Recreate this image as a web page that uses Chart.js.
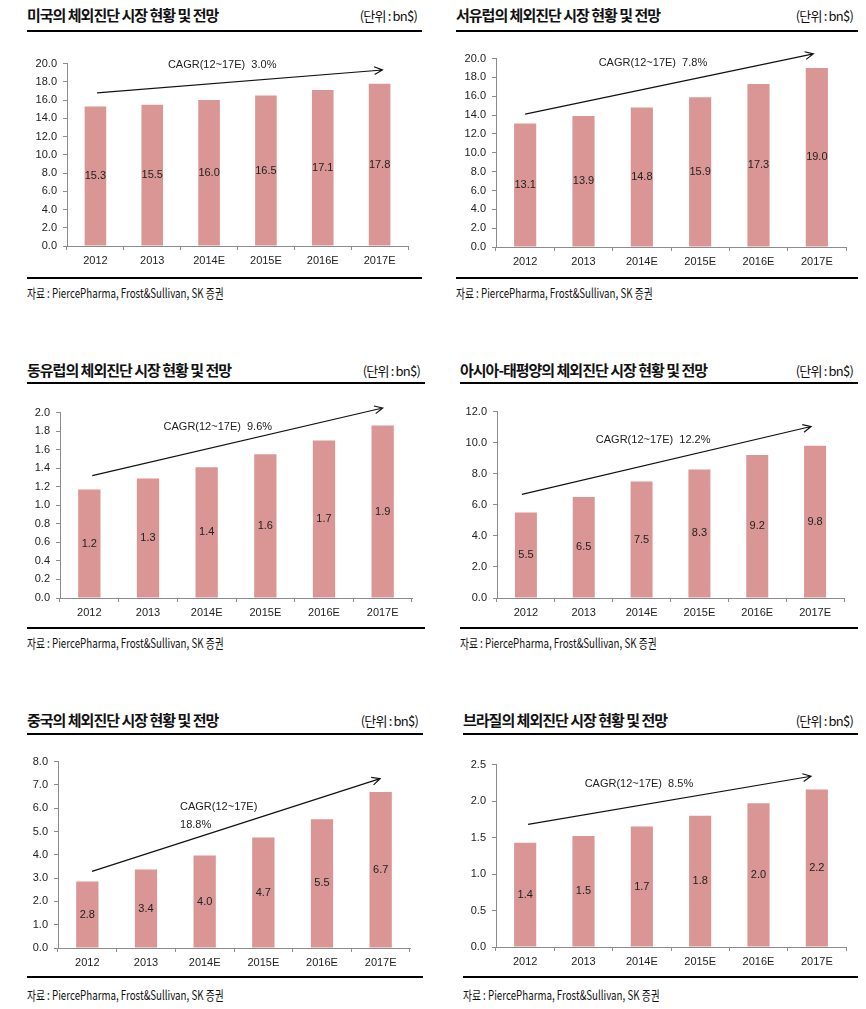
<!DOCTYPE html>
<html>
<head>
<meta charset="utf-8">
<script src="https://cdn.jsdelivr.net/npm/chart.js@4.4.1/dist/chart.umd.min.js"></script>
<style>
    html, body { margin: 0; padding: 0; background: #fff; }
    body { width: 866px; height: 1009px; position: relative; overflow: hidden; }
    .title { position: absolute; font-family: "Noto Sans CJK KR", sans-serif; font-weight: 700; font-size: 15px; letter-spacing: -1px; color: #111; white-space: nowrap; line-height: 1; }
    .unit { position: absolute; font-family: "Noto Sans CJK KR", sans-serif; font-size: 13px; letter-spacing: -0.8px; color: #111; white-space: nowrap; line-height: 1; }
    .rule { position: absolute; height: 2px; background: #000; }
    .source { position: absolute; font-family: "Noto Sans CJK KR", sans-serif; font-size: 13px; color: #111; white-space: nowrap; line-height: 1; transform: scaleX(0.75); transform-origin: left center; }
    canvas { position: absolute; }
</style>
</head>
<body>
<script>
// categories shared by every panel
const years = ['2012', '2013', '2014E', '2015E', '2016E', '2017E'];

// series values (bn$)
const usValues = [15.3, 15.5, 16.0, 16.5, 17.1, 17.8];
const westEuValues = [13.1, 13.9, 14.8, 15.9, 17.3, 19.0];
const eastEuValues = [1.17, 1.29, 1.41, 1.55, 1.70, 1.86];
const apacValues = [5.5, 6.5, 7.5, 8.28, 9.2, 9.8];
const chinaValues = [2.85, 3.37, 3.97, 4.74, 5.53, 6.7];
const brazilValues = [1.43, 1.52, 1.65, 1.80, 1.97, 2.16];

// labels printed inside the bars
const usLabels = ['15.3', '15.5', '16.0', '16.5', '17.1', '17.8'];
const westEuLabels = ['13.1', '13.9', '14.8', '15.9', '17.3', '19.0'];
const eastEuLabels = ['1.2', '1.3', '1.4', '1.6', '1.7', '1.9'];
const apacLabels = ['5.5', '6.5', '7.5', '8.3', '9.2', '9.8'];
const chinaLabels = ['2.8', '3.4', '4.0', '4.7', '5.5', '6.7'];
const brazilLabels = ['1.4', '1.5', '1.7', '1.8', '2.0', '2.2'];

// y axis ranges
const usAxis = { max: 20, step: 2 };
const westEuAxis = { max: 20, step: 2 };
const eastEuAxis = { max: 2, step: 0.2 };
const apacAxis = { max: 12, step: 2 };
const chinaAxis = { max: 8, step: 1 };
const brazilAxis = { max: 2.5, step: 0.5 };

const titles = [
    '미국의 체외진단 시장 현황 및 전망',
    '서유럽의 체외진단 시장 현황 및 전망',
    '동유럽의 체외진단 시장 현황 및 전망',
    '아시아-태평양의 체외진단 시장 현황 및 전망',
    '중국의 체외진단 시장 현황 및 전망',
    '브라질의 체외진단 시장 현황 및 전망'
];
const cagrTexts = [
    ['CAGR(12~17E)  3.0%'],
    ['CAGR(12~17E)  7.8%'],
    ['CAGR(12~17E)  9.6%'],
    ['CAGR(12~17E)  12.2%'],
    ['CAGR(12~17E)', '18.8%'],
    ['CAGR(12~17E)  8.5%']
];
const unitText = '(단위 : bn$)';
const sourceText = '자료 : PiercePharma, Frost&Sullivan, SK 증권';

const BAR_COLOR = '#DA9694';
const AXIS_COLOR = '#8c8c8c';
const Y_W = 45, X_H = 28, PAD_T = 12, PAD_R = 12;

// page layout for each panel
const panels = [
    { values: usValues, labels: usLabels, axis: usAxis, axisX: 67, top: 63, bottom: 246, right: 408,
      textLeft: 27, lineRight: 422, titleY: 7, ruleY: 30, footY: 277, srcY: 286,
      arrow: [0.03, 16.8, 5.05, 19.3], cagr: { at: [2.23, 19.9], align: 'center' } },
    { values: westEuValues, labels: westEuLabels, axis: westEuAxis, axisX: 496, top: 58, bottom: 247, right: 846,
      textLeft: 456, lineRight: 858, titleY: 7, ruleY: 30, footY: 277, srcY: 286,
      arrow: [0.0, 14.1, 4.94, 20.5], cagr: { at: [2.19, 19.5], align: 'center' } },
    { values: eastEuValues, labels: eastEuLabels, axis: eastEuAxis, axisX: 60, top: 412, bottom: 598, right: 412,
      textLeft: 27, lineRight: 425, titleY: 362, ruleY: 382, footY: 627, srcY: 636,
      arrow: [0.05, 1.32, 5.0, 2.05], cagr: { at: [2.19, 1.85], align: 'center' } },
    { values: apacValues, labels: apacLabels, axis: apacAxis, axisX: 497, top: 411, bottom: 598, right: 844,
      textLeft: 460, lineRight: 858, titleY: 362, ruleY: 382, footY: 627, srcY: 636,
      arrow: [-0.07, 6.67, 4.93, 11.04], cagr: { at: [2.2, 10.2], align: 'center' } },
    { values: chinaValues, labels: chinaLabels, axis: chinaAxis, axisX: 58, top: 761, bottom: 948, right: 410,
      textLeft: 27, lineRight: 423, titleY: 712, ruleY: 733, footY: 976, srcY: 988,
      arrow: [0.08, 3.29, 4.99, 7.27], cagr: { at: [1.58, 6.07], align: 'left', lineGap: 0.81 } },
    { values: brazilValues, labels: brazilLabels, axis: brazilAxis, axisX: 496, top: 764, bottom: 947, right: 846,
      textLeft: 463, lineRight: 858, titleY: 712, ruleY: 733, footY: 976, srcY: 988,
      arrow: [0.05, 1.68, 4.9, 2.34], cagr: { at: [1.95, 2.24], align: 'center' } }
];

// draws the value inside each bar
const barLabelPlugin = {
    id: 'barLabels',
    afterDatasetsDraw(chart) {
        const ctx = chart.ctx;
        const labels = chart.options.plugins.barLabels.labels;
        const meta = chart.getDatasetMeta(0);
        ctx.save();
        ctx.font = '11px "Liberation Sans", Arial, sans-serif';
        ctx.fillStyle = '#222';
        ctx.textAlign = 'center';
        ctx.textBaseline = 'middle';
        meta.data.forEach((bar, i) => {
            ctx.fillText(labels[i], bar.x, (bar.y + bar.base) / 2);
        });
        ctx.restore();
    }
};

// CAGR arrow and text, placed through the scales
const cagrPlugin = {
    id: 'cagr',
    afterDraw(chart) {
        const opts = chart.options.plugins.cagr;
        const xs = chart.scales.x, ys = chart.scales.y;
        const ctx = chart.ctx;
        const x1 = xs.getPixelForValue(opts.arrow[0]);
        const y1 = ys.getPixelForValue(opts.arrow[1]);
        const x2 = xs.getPixelForValue(opts.arrow[2]);
        const y2 = ys.getPixelForValue(opts.arrow[3]);
        ctx.save();
        ctx.strokeStyle = '#111';
        ctx.lineWidth = 1.2;
        ctx.beginPath();
        ctx.moveTo(x1, y1);
        ctx.lineTo(x2, y2);
        const ang = Math.atan2(y2 - y1, x2 - x1);
        const head = 9;
        ctx.moveTo(x2 - head * Math.cos(ang - 0.45), y2 - head * Math.sin(ang - 0.45));
        ctx.lineTo(x2, y2);
        ctx.lineTo(x2 - head * Math.cos(ang + 0.45), y2 - head * Math.sin(ang + 0.45));
        ctx.stroke();

        ctx.font = '11px "Liberation Sans", Arial, sans-serif';
        ctx.fillStyle = '#222';
        ctx.textAlign = opts.text.align;
        ctx.textBaseline = 'middle';
        const tx = xs.getPixelForValue(opts.text.at[0]);
        opts.lines.forEach((line, i) => {
            const ty = ys.getPixelForValue(opts.text.at[1] - i * (opts.text.lineGap || 0));
            ctx.fillText(line, tx, ty);
        });
        ctx.restore();
    }
};

function addText(cls, text, left, top, right) {
    const el = document.createElement('div');
    el.className = cls;
    el.textContent = text;
    el.style.top = top + 'px';
    if (right !== undefined) {
        el.style.right = (866 - right) + 'px';
    } else {
        el.style.left = left + 'px';
    }
    document.body.appendChild(el);
}

function addRule(left, right, top) {
    const el = document.createElement('div');
    el.className = 'rule';
    el.style.left = left + 'px';
    el.style.width = (right - left) + 'px';
    el.style.top = top + 'px';
    document.body.appendChild(el);
}

panels.forEach((p, idx) => {
    addText('title', titles[idx], p.textLeft, p.titleY);
    addText('unit', unitText, null, p.titleY + 2, p.lineRight - 5);
    addRule(p.textLeft, p.lineRight, p.ruleY);
    addRule(p.textLeft, p.lineRight, p.footY);
    addText('source', sourceText, p.textLeft, p.srcY);

    const canvas = document.createElement('canvas');
    const w = p.right - p.axisX + Y_W + PAD_R;
    const h = p.bottom - p.top + PAD_T + X_H;
    canvas.width = w;
    canvas.height = h;
    canvas.style.left = (p.axisX - Y_W) + 'px';
    canvas.style.top = (p.top - PAD_T) + 'px';
    canvas.style.width = w + 'px';
    canvas.style.height = h + 'px';
    document.body.appendChild(canvas);

    new Chart(canvas.getContext('2d'), {
        type: 'bar',
        data: {
            labels: years,
            datasets: [{
                data: p.values,
                backgroundColor: BAR_COLOR,
                borderWidth: 0,
                categoryPercentage: 1,
                barPercentage: 0.38
            }]
        },
        options: {
            responsive: false,
            animation: false,
            devicePixelRatio: 1,
            layout: { padding: { top: PAD_T, right: PAD_R, left: 0, bottom: 0 } },
            plugins: {
                legend: { display: false },
                tooltip: { enabled: false },
                barLabels: { labels: p.labels },
                cagr: { arrow: p.arrow, text: p.cagr, lines: cagrTexts[idx] }
            },
            scales: {
                x: {
                    grid: { display: true, drawOnChartArea: false, offset: true, tickLength: 4, color: AXIS_COLOR },
                    border: { display: true, color: AXIS_COLOR, width: 1 },
                    ticks: {
                        color: '#222',
                        padding: 4,
                        maxRotation: 0,
                        font: { family: '"Liberation Sans", Arial, sans-serif', size: 11 }
                    },
                    afterFit(scale) { scale.height = X_H; }
                },
                y: {
                    min: 0,
                    max: p.axis.max,
                    grid: { display: true, drawOnChartArea: false, tickLength: 4, color: AXIS_COLOR },
                    border: { display: true, color: AXIS_COLOR, width: 1 },
                    ticks: {
                        stepSize: p.axis.step,
                        color: '#222',
                        padding: 6,
                        font: { family: '"Liberation Sans", Arial, sans-serif', size: 11 },
                        callback: v => v.toFixed(1)
                    },
                    afterFit(scale) { scale.width = Y_W; }
                }
            }
        },
        plugins: [barLabelPlugin, cagrPlugin]
    });
});
</script>
</body>
</html>
